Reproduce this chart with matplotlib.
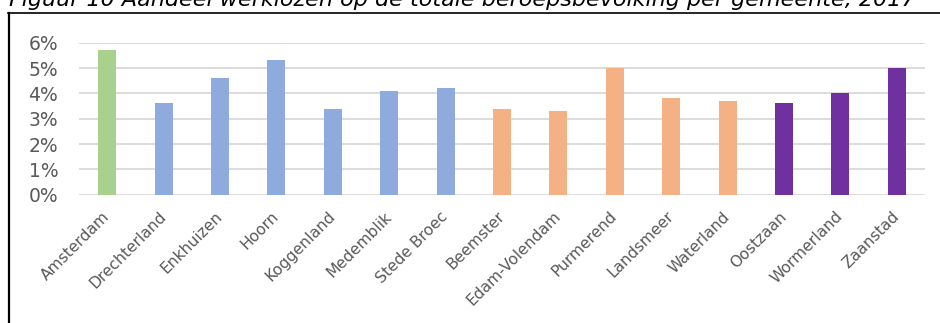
import matplotlib

matplotlib.use("Agg")
import matplotlib.pyplot as plt  # noqa: E402
from matplotlib.lines import Line2D  # noqa: E402
from matplotlib.ticker import FuncFormatter  # noqa: E402

# gemeenten en aandeel werklozen (%), 2017
gemeenten = [
    "Amsterdam", "Drechterland", "Enkhuizen", "Hoorn", "Koggenland",
    "Medemblik", "Stede Broec", "Beemster", "Edam-Volendam", "Purmerend",
    "Landsmeer", "Waterland", "Oostzaan", "Wormerland", "Zaanstad",
]
aandeel = [5.7, 3.6, 4.6, 5.3, 3.4, 4.1, 4.2, 3.4, 3.3, 5.0, 3.8, 3.7, 3.6, 4.0, 5.0]
regio = ["ams", "wf", "wf", "wf", "wf", "wf", "wf",
         "wl", "wl", "wl", "wl", "wl", "zs", "zs", "zs"]
regio_kleur = {"ams": "#A9D18E", "wf": "#8FAADC", "wl": "#F4B183", "zs": "#7030A0"}
yticks = [0, 1, 2, 3, 4, 5, 6]

W, H = 940, 323
fig = plt.figure(figsize=(W / 100, H / 100), dpi=100)

# titel, valt deels boven de rand weg (zoals in het origineel)
fig.text(9 / W, 1 - 6.5 / H,
         "Figuur 10 Aandeel werklozen op de totale beroepsbevolking per gemeente, 2017",
         fontsize=16, style="italic", color="black", ha="left", va="baseline")

# kader om de grafiek
fig.add_artist(Line2D([8.5 / W, 8.5 / W], [0, 1 - 13 / H], color="black", lw=1.6,
                      transform=fig.transFigure))
fig.add_artist(Line2D([8 / W, 1], [1 - 13 / H, 1 - 13 / H], color="black", lw=1.2,
                      transform=fig.transFigure))

ax = fig.add_axes([79 / W, 1 - 194.7 / H, (925 - 79) / W, (194.7 - 42.7) / H])
x = range(len(gemeenten))
ax.bar(x, aandeel, width=0.32, color=[regio_kleur[r] for r in regio], zorder=3)

ax.set_xlim(-0.5, len(gemeenten) - 0.5)
ax.set_ylim(0, 6)
ax.set_yticks(yticks)
ax.yaxis.set_major_formatter(FuncFormatter(lambda v, _: f"{v:.0f}%"))
ax.grid(axis="y", color="#D9D9D9", lw=1.3, zorder=0)
ax.set_axisbelow(True)
for s in ax.spines.values():
    s.set_visible(False)
ax.tick_params(length=0)
ax.tick_params(axis="y", labelsize=13.5, labelcolor="#595959", pad=15)

ax.set_xticks(list(x))
ax.set_xticklabels(gemeenten, rotation=45, ha="right", va="center",
                   rotation_mode="anchor", fontsize=11.2, color="#595959")
ax.tick_params(axis="x", pad=14)

fig.savefig("out.png", dpi=100)
